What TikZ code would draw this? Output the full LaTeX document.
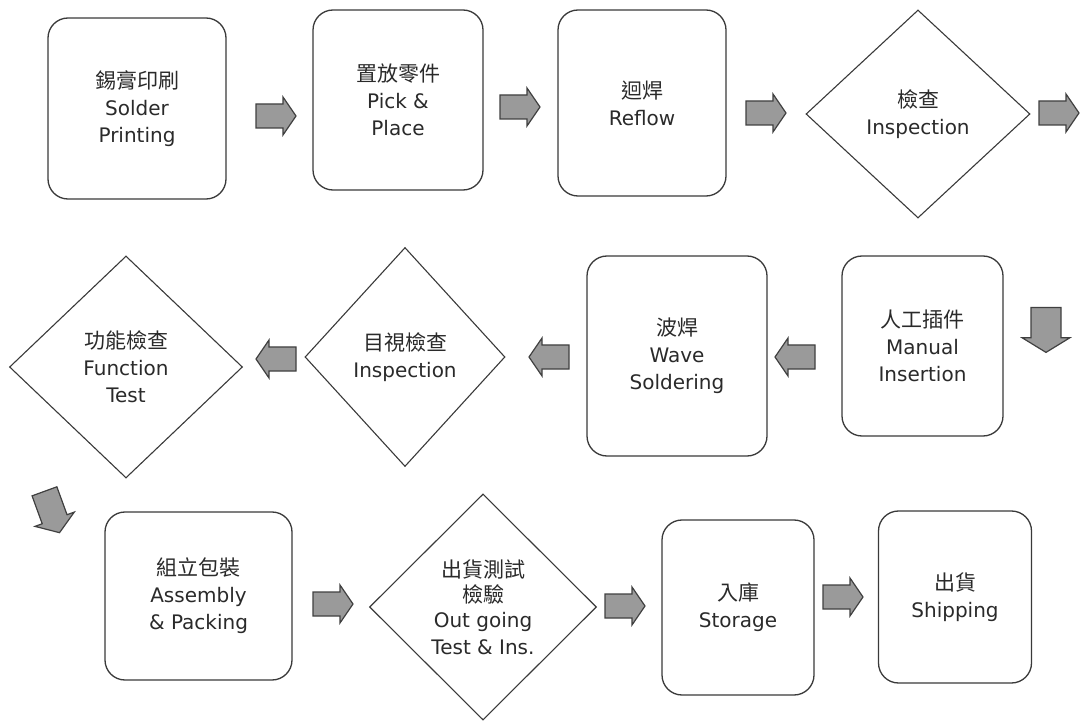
\documentclass[tikz,border=0pt]{standalone}
\usepackage{fontspec}
\setmainfont{DejaVu Sans}
\newfontfamily\cjk{Noto Sans CJK TC}
\usetikzlibrary{shapes.geometric}
\definecolor{edge}{HTML}{3A3A3A}
\definecolor{arrfill}{HTML}{9A9A9A}
\definecolor{txt}{HTML}{2A2A2A}
\tikzset{
  every node/.style={text=txt, font=\fontsize{20}{27}\selectfont, align=center, inner sep=0pt},
  procbox/.style={draw=edge, line width=1.3pt, rounded corners=20pt, fill=white},
  decision/.style={diamond, draw=edge, line width=1.1pt, fill=white},
  arrowbody/.style={draw=black!75, line width=1.2pt, fill=arrfill, line join=miter},
  pics/blockarrow/.style={code={
    \draw[arrowbody] (-20,-12) -- (7,-12) -- (7,-19) -- (20,0) -- (7,19) -- (7,12) -- (-20,12) -- cycle;
  }}
}
\newcommand{\zh}[1]{{\cjk\fontsize{21}{24}\selectfont #1}}
\begin{document}
\begin{tikzpicture}[x=1pt,y=-1pt]
\useasboundingbox (0,0) rectangle (1080,722);
% Row 1
\node[procbox, minimum width=178pt, minimum height=181pt] (b1) at (137,108.5) {\zh{錫膏印刷}\\Solder\\Printing};
\node[procbox, minimum width=170pt, minimum height=180pt] (b2) at (398,100) {\zh{置放零件}\\Pick \&\\Place};
\node[procbox, minimum width=168pt, minimum height=186pt] (b3) at (642,103) {\zh{迴焊}\\Reflow};
\node[decision, minimum width=224pt, minimum height=208pt] (d1) at (918,114) {\zh{檢查}\\Inspection};
% Row 2
\node[procbox, minimum width=161pt, minimum height=180pt] (b4) at (922.5,346) {\zh{人工插件}\\Manual\\Insertion};
\node[procbox, minimum width=180pt, minimum height=200pt] (b5) at (677,356) {\zh{波焊}\\Wave\\Soldering};
\node[decision, minimum width=200pt, minimum height=219pt] (d2) at (405,357) {\zh{目視檢查}\\Inspection};
\node[decision, minimum width=233pt, minimum height=222pt] (d3) at (126,367) {\zh{功能檢查}\\Function\\Test};
% Row 3
\node[procbox, minimum width=187pt, minimum height=168pt] (b6) at (198.5,596) {\zh{組立包裝}\\Assembly\\\& Packing};
\node[decision, minimum width=227pt, minimum height=226pt] (d4) at (483,607) {\zh{出貨測試}\\[-2pt]\zh{檢驗}\\[-2pt]Out going\\Test \& Ins.};
\node[procbox, minimum width=152pt, minimum height=175pt] (b7) at (738,607.5) {\zh{入庫}\\Storage};
\node[procbox, minimum width=153pt, minimum height=172pt] (b8) at (955,597) {\zh{出貨}\\Shipping};
% Block arrows
\pic at (276,116) {blockarrow};
\pic at (520,107) {blockarrow};
\pic at (766,113) {blockarrow};
\pic at (1059,113) {blockarrow};
\pic[rotate=-90, xscale=1.12, yscale=1.25] at (1046,330) {blockarrow};
\pic[rotate=180] at (795,357) {blockarrow};
\pic[rotate=180] at (549,357) {blockarrow};
\pic[rotate=180] at (276,359) {blockarrow};
\pic[rotate=-70, scale=1.1] at (52,512) {blockarrow};
\pic at (333,604) {blockarrow};
\pic at (625,606) {blockarrow};
\pic at (843,597) {blockarrow};
\end{tikzpicture}
\end{document}
